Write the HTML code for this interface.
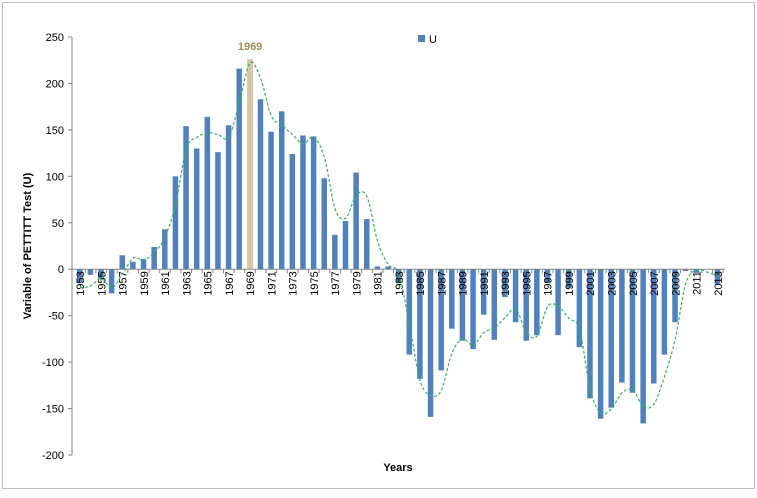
<!DOCTYPE html>
<html><head><meta charset="utf-8"><style>
body{margin:0;background:#fff;font-family:"Liberation Sans",sans-serif}
#wrap{position:absolute;left:0;top:0;width:757px;height:493px}
</style></head><body>
<div id="wrap">
<svg id="chart" width="757" height="493" xmlns="http://www.w3.org/2000/svg">
<rect x="2.5" y="2.5" width="752" height="486" fill="#fff" stroke="#bdbdbd"/>
</svg>
</div>
<script>
const years=[];for(let y=1953;y<=2013;y++)years.push(y);
const uValues=[-15,-6,-10,-26,15,8,11,24,43,100,154,130,164,126,155,216,226,183,148,170,124,144,143,98,37,52,104,54,3,3,-15,-92,-118,-159,-109,-64,-77,-86,-49,-76,-30,-57,-77,-71,-15,-71,-20,-84,-139,-161,-149,-122,-133,-166,-123,-92,-57,-2,-4,0,-17];
const trend=[-20,-18,-10,-20,-5,12,10,18,35,70,130,142,147,145,142,180,222,205,165,155,145,135,142,120,65,55,80,78,30,5,-5,-60,-120,-136,-130,-90,-75,-82,-68,-63,-52,-43,-68,-72,-40,-40,-53,-65,-130,-155,-150,-133,-130,-148,-145,-115,-75,-15,-1,-3,-8];
const yTicks=[250,200,150,100,50,0,-50,-100,-150,-200];
const breakYear=1969;
const NS='http://www.w3.org/2000/svg';
const svg=document.getElementById('chart');
const yS=v=>37+(250-v)*(418/450);
const xS=yr=>80+(yr-1953)*10.63;
function mk(t,a){const e=document.createElementNS(NS,t);for(const k in a)e.setAttribute(k,a[k]);svg.appendChild(e);return e;}
// y axis
let ax=mk('line',{x1:72,y1:37,x2:72,y2:455,stroke:'#868686'});


yTicks.forEach(v=>{
 const t=mk('line',{x1:68,x2:72,y1:yS(v),y2:yS(v),stroke:'#868686'});
 
 
 const l=mk('text',{x:64,y:yS(v)+4,'text-anchor':'end','font-size':11,fill:'#000'});
 l.textContent=v;
 
 
});
// bars
years.forEach((yr,i)=>{
 const v=uValues[i];const y0=yS(0),y1=yS(v);
 const hl=yr===breakYear;
 const b=mk('rect',{x:xS(yr)-(hl?3:3),y:Math.min(y0,y1),width:hl?6:5.5,height:Math.abs(y1-y0),fill:hl?'#d6c6a8':'#4f81bd'});
 
 
});
// x axis
let xa=mk('line',{x1:72,y1:yS(0),x2:725,y2:yS(0),stroke:'#868686'});


years.forEach((yr,i)=>{
 const tx=xS(yr)+5.3;
 const t=mk('line',{x1:tx,x2:tx,y1:yS(0),y2:yS(0)+4,stroke:'#868686'});
 
 
 if(i%2===0){
  const l=mk('text',{x:0,y:0,'font-size':11,fill:'#000',transform:`translate(${xS(yr)+4},${yS(0)+2}) rotate(-90)`,'text-anchor':'end'});
  l.textContent=yr;
  
  
 }
});
// trend curve (Catmull-Rom)
const pts=years.map((yr,i)=>[xS(yr),yS(trend[i])]);
let d='M'+pts[0][0]+','+pts[0][1];
for(let i=0;i<pts.length-1;i++){
 const p0=pts[Math.max(0,i-1)],p1=pts[i],p2=pts[i+1],p3=pts[Math.min(pts.length-1,i+2)];
 d+=` C${p1[0]+(p2[0]-p0[0])/6},${p1[1]+(p2[1]-p0[1])/6} ${p2[0]-(p3[0]-p1[0])/6},${p2[1]-(p3[1]-p1[1])/6} ${p2[0]},${p2[1]}`;
}
const c=mk('path',{d:d,fill:'none',stroke:'#33b35a','stroke-width':1.2,'stroke-dasharray':'3,2'});


// break label
const bl=mk('text',{x:xS(breakYear),y:50,'text-anchor':'middle','font-size':11,'font-weight':'bold',fill:'#a08c5a'});
bl.textContent=breakYear;


// legend
const lg=mk('rect',{x:418,y:35,width:7,height:7,fill:'#4f81bd'});


const lt=mk('text',{x:429,y:43,'font-size':11,fill:'#000'});
lt.textContent='U';


// titles
const xt=mk('text',{x:398,y:471,'text-anchor':'middle','font-size':11,'font-weight':'bold'});
xt.textContent='Years';


const yt=mk('text',{x:0,y:0,'text-anchor':'middle','font-size':11,'font-weight':'bold',transform:'translate(31,246) rotate(-90)'});
yt.textContent='Variable of PETTITT Test  (U)';


</script>
</body></html>
